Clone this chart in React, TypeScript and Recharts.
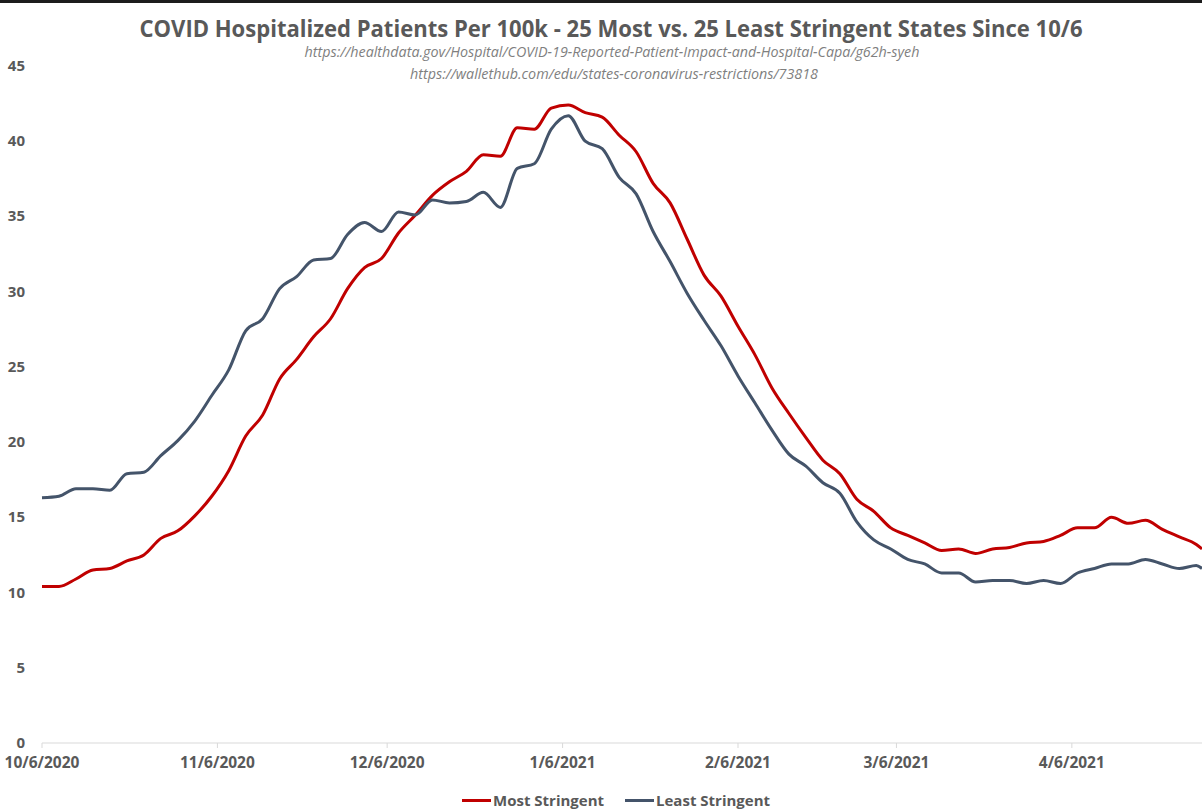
import React from 'react';
import { LineChart, Line, XAxis, YAxis, Legend } from 'recharts';

// days since 10/6/2020, sampled every 3 days (plus the last day shown)
const days = [
  0, 3, 6, 9, 12, 15, 18, 21, 24, 27,
  30, 33, 36, 39, 42, 45, 48, 51, 54, 57,
  60, 63, 66, 69, 72, 75, 78, 81, 84, 87,
  90, 93, 96, 99, 102, 105, 108, 111, 114, 117,
  120, 123, 126, 129, 132, 135, 138, 141, 144, 147,
  150, 153, 156, 159, 162, 165, 168, 171, 174, 177,
  180, 183, 186, 189, 192, 195, 198, 201, 204, 205,
];

const mostStringent = [
  10.4, 10.4, 10.9, 11.5, 11.6, 12.1, 12.5, 13.6, 14.1, 15.1,
  16.4, 18.1, 20.4, 21.8, 24.2, 25.5, 27.0, 28.2, 30.2, 31.6,
  32.2, 33.9, 35.1, 36.4, 37.3, 38.0, 39.1, 39.0, 40.9, 40.8,
  42.2, 42.4, 41.9, 41.6, 40.4, 39.3, 37.2, 35.9, 33.5, 31.1,
  29.7, 27.7, 25.8, 23.6, 21.9, 20.3, 18.8, 17.9, 16.2, 15.4,
  14.3, 13.8, 13.3, 12.8, 12.9, 12.6, 12.9, 13.0, 13.3, 13.4,
  13.8, 14.3, 14.3, 15.0, 14.6, 14.8, 14.2, 13.7, 13.2, 12.9,
];

const leastStringent = [
  16.3, 16.4, 16.9, 16.9, 16.8, 17.9, 18.0, 19.1, 20.1, 21.4,
  23.1, 24.8, 27.4, 28.2, 30.2, 31.0, 32.1, 32.2, 33.8, 34.6,
  34.0, 35.3, 35.1, 36.1, 35.9, 36.0, 36.6, 35.6, 38.2, 38.5,
  40.8, 41.7, 40.0, 39.5, 37.6, 36.5, 34.0, 32.0, 29.9, 28.1,
  26.4, 24.4, 22.6, 20.8, 19.2, 18.4, 17.3, 16.6, 14.7, 13.5,
  12.9, 12.2, 11.9, 11.3, 11.3, 10.7, 10.8, 10.8, 10.6, 10.8,
  10.6, 11.3, 11.6, 11.9, 11.9, 12.2, 11.9, 11.6, 11.8, 11.6,
];

const dateTicks = [0, 31, 61, 92, 123, 151, 182];
const dateLabels = ['10/6/2020', '11/6/2020', '12/6/2020', '1/6/2021', '2/6/2021', '3/6/2021', '4/6/2021'];
const valueTicks = [0, 5, 10, 15, 20, 25, 30, 35, 40, 45];

const data = days.map((day, i) => ({
  day,
  most: mostStringent[i],
  least: leastStringent[i],
}));

const RED = '#C00000';
const SLATE = '#44546A';
const LABEL = '#595959';
const FONT = "'Open Sans', sans-serif";

const DateTick = ({ x, y, payload }: any) => (
  <text x={x} y={y + 18} textAnchor="middle" fill={LABEL} fontFamily={FONT} fontWeight="bold" fontSize={15.5}>
    {dateLabels[dateTicks.indexOf(payload.value)]}
  </text>
);

const ValueTick = ({ y, payload }: any) => (
  <text x={25} y={y + 5} textAnchor="end" fill={LABEL} fontFamily={FONT} fontWeight="bold" fontSize={15}>
    {payload.value}
  </text>
);

const LegendContent = () => (
  <div style={{ height: 20, display: 'flex', alignItems: 'center', paddingLeft: 462, fontFamily: FONT, fontWeight: 'bold', fontSize: 15, color: LABEL }}>
    <span style={{ display: 'inline-block', width: 29, height: 3, background: RED }} />
    <span style={{ marginLeft: 2 }}>Most Stringent</span>
    <span style={{ display: 'inline-block', width: 29, height: 3, background: SLATE, marginLeft: 21 }} />
    <span style={{ marginLeft: 2 }}>Least Stringent</span>
  </div>
);

export default function App() {
  return (
    <div style={{ position: 'absolute', left: 0, top: 0, width: 1202, height: 811, background: '#fff', overflow: 'hidden' }}>
      <div style={{ position: 'absolute', left: 0, top: 0, width: 1202, height: 3, background: '#1c1c1c' }} />
      <svg width={1202} height={90} style={{ position: 'absolute', left: 0, top: 0 }}>
        <text x={611} y={37} textAnchor="middle" fill={LABEL} fontFamily={FONT} fontWeight="bold" fontSize={24}
          textLength={943} lengthAdjust="spacingAndGlyphs">
          COVID Hospitalized Patients Per 100k - 25 Most vs. 25 Least Stringent States Since 10/6
        </text>
        <text x={612} y={57} textAnchor="middle" fill="#7f7f7f" fontFamily={FONT} fontStyle="italic" fontSize={14}
          textLength={615} lengthAdjust="spacingAndGlyphs">
          https://healthdata.gov/Hospital/COVID-19-Reported-Patient-Impact-and-Hospital-Capa/g62h-syeh
        </text>
        <text x={614} y={79} textAnchor="middle" fill="#7f7f7f" fontFamily={FONT} fontStyle="italic" fontSize={14}
          textLength={408} lengthAdjust="spacingAndGlyphs">
          https://wallethub.com/edu/states-coronavirus-restrictions/73818
        </text>
      </svg>
      <LineChart width={1202} height={811} data={data} margin={{ top: 66, right: 0, bottom: 18, left: 0 }}>
        <XAxis
          dataKey="day"
          type="number"
          domain={[0, 205]}
          ticks={dateTicks}
          interval={0}
          height={30}
          tick={<DateTick />}
          tickSize={5}
          tickLine={{ stroke: '#d9d9d9' }}
          axisLine={{ stroke: '#d9d9d9' }}
        />
        <YAxis
          type="number"
          domain={[0, 45]}
          ticks={valueTicks}
          interval={0}
          width={42}
          axisLine={false}
          tickLine={false}
          tick={<ValueTick />}
        />
        <Legend content={<LegendContent />} wrapperStyle={{ top: 790, left: 0 }} />
        <Line type="monotone" dataKey="most" name="Most Stringent" stroke={RED} strokeWidth={3} dot={false} isAnimationActive={false} />
        <Line type="monotone" dataKey="least" name="Least Stringent" stroke={SLATE} strokeWidth={3} dot={false} isAnimationActive={false} />
      </LineChart>
    </div>
  );
}
